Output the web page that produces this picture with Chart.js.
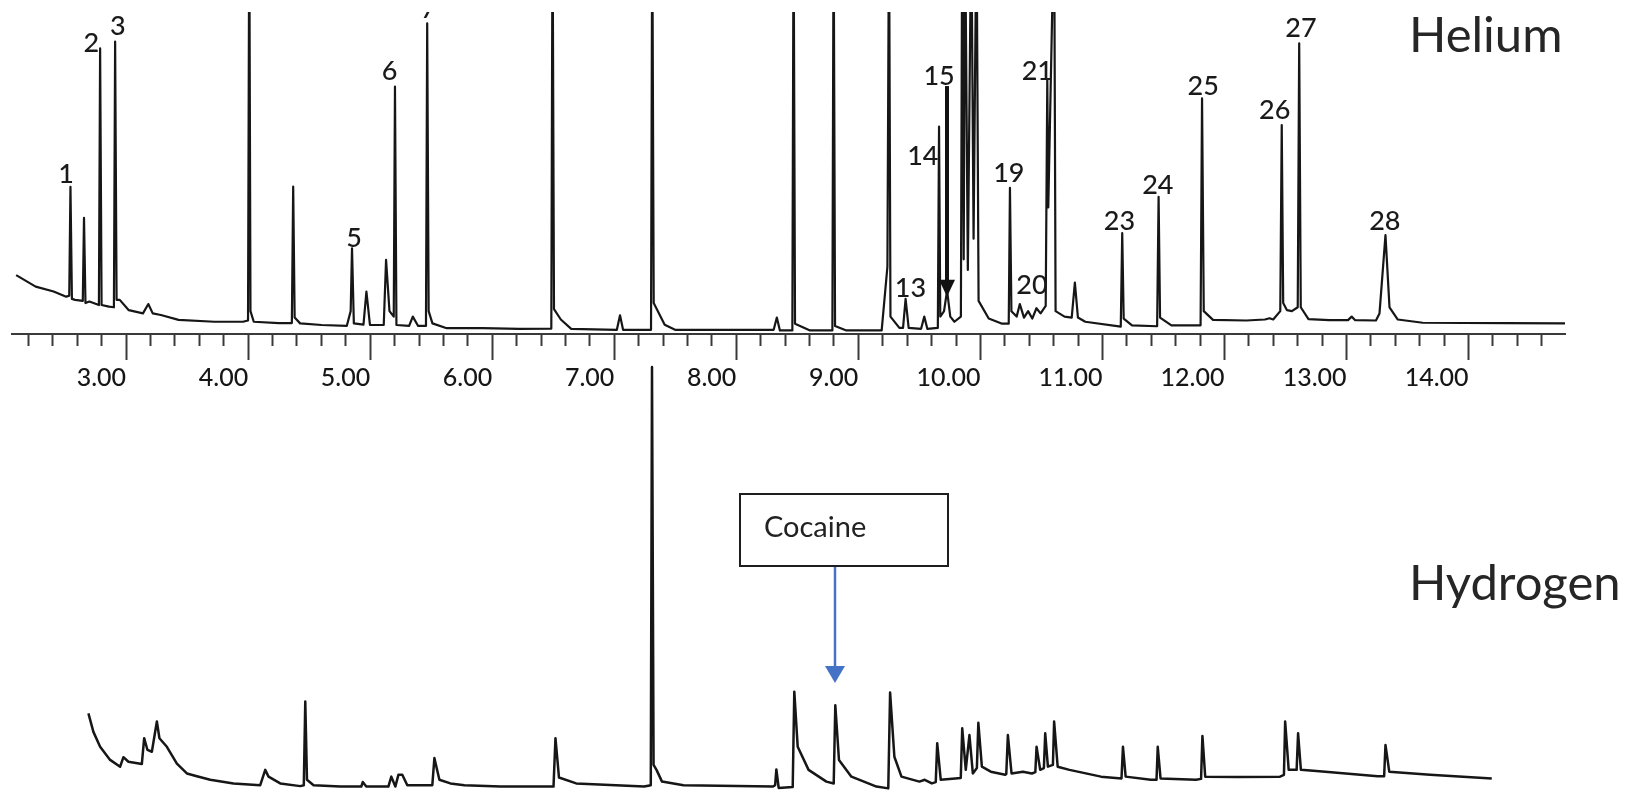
<!DOCTYPE html>
<html>
<head>
<meta charset="utf-8">
<script src="https://cdn.jsdelivr.net/npm/chart.js@4.4.1/dist/chart.umd.min.js"></script>
<style>
  html, body { margin: 0; padding: 0; background: #ffffff; }
  #wrap { position: relative; width: 1627px; height: 792px; overflow: hidden; }
  canvas { position: absolute; left: 0; top: 0; }
</style>
</head>
<body>
<div id="wrap">
  <canvas id="hydrogen" width="1627" height="792"></canvas>
  <canvas id="helium" width="1627" height="400"></canvas>
</div>
<script>
// ---- Helium carrier gas trace (retention time in minutes, detector response in % of full scale) ----
const heliumTime = [
  2.099,2.259,2.406,2.509,2.534,2.544,2.556,2.582,2.645,2.655,
  2.667,2.699,2.777,2.787,2.799,2.860,2.900,2.910,2.922,2.948,
  3.022,3.138,3.182,3.218,3.285,3.430,3.723,3.958,3.999,4.009,
  4.019,4.046,4.251,4.358,4.369,4.381,4.426,4.603,4.808,4.840,
  4.851,4.866,4.945,4.969,4.998,5.111,5.130,5.158,5.193,5.203,
  5.215,5.319,5.349,5.393,5.457,5.467,5.479,5.510,5.627,5.921,
  6.221,6.484,6.494,6.506,6.562,6.647,7.021,7.047,7.072,7.301,
  7.311,7.323,7.413,7.498,8.306,8.332,8.357,8.459,8.469,8.481,
  8.604,8.787,8.797,8.809,8.902,9.191,9.238,9.251,9.263,9.336,
  9.366,9.387,9.412,9.514,9.540,9.565,9.651,9.661,9.671,9.702,
  9.727,9.753,9.787,9.840,9.851,9.863,9.874,9.897,9.925,9.944,
  9.968,9.985,10.068,10.178,10.232,10.242,10.254,10.297,10.323,10.357,
  10.391,10.425,10.459,10.493,10.535,10.548,10.556,10.604,10.616,10.689,
  10.748,10.774,10.799,10.859,11.150,11.162,11.174,11.242,11.448,11.460,
  11.472,11.565,11.804,11.816,11.830,11.906,12.178,12.331,12.369,12.399,
  12.457,12.469,12.481,12.512,12.552,12.600,12.612,12.625,12.688,12.859,
  13.012,13.042,13.071,13.241,13.270,13.319,13.352,13.420,13.624,14.305,
  14.790
];
const heliumSignal = [
  18.3,14.7,13.2,11.6,11.9,45.7,10.9,10.6,10.3,36.1,
  9.6,10.1,9.0,88.7,9.0,8.5,8.3,90.8,10.6,10.6,
  7.4,6.4,9.3,6.4,5.9,4.4,3.8,3.8,4.2,130,
  7.1,3.8,3.4,3.4,45.8,5.1,3.3,2.8,2.5,7.1,
  26.6,3.3,2.9,13.2,2.8,2.8,23.0,7.1,5.4,76.8,
  2.8,2.5,5.4,2.5,2.5,96.5,7.1,3.3,1.8,1.8,
  1.6,1.7,130,7.7,4.5,1.6,1.3,5.8,1.3,1.3,
  130,9.6,2.9,1.3,1.3,5.1,1.1,1.1,130,3.2,
  1.1,1.1,130,2.5,1.1,1.1,20.9,130,5.4,1.9,
  1.9,10.9,1.9,1.6,5.4,1.6,1.9,64.4,5.4,7.1,
  13.5,5.4,3.8,5.4,130,23.2,130,19.9,130,29.6,
  130,10.3,4.8,3.2,3.2,45.4,7.1,5.4,9.3,5.1,
  7.1,4.8,8.0,6.4,8.7,78.9,39.3,130,7.1,5.4,
  5.1,16.0,5.1,3.8,2.3,31.3,4.8,2.7,2.4,42.6,
  5.1,2.7,2.7,73.2,7.1,4.4,4.2,4.5,4.9,4.5,
  7.1,64.9,9.6,7.4,7.1,8.3,90.3,8.3,4.6,4.3,
  4.3,5.4,4.3,4.2,6.4,30.7,8.3,4.5,3.5,3.4,
  3.3
];

// ---- Hydrogen carrier gas trace (same time base) ----
const hydrogenTime = [
  2.691,2.732,2.787,2.869,2.951,2.978,3.019,3.129,3.148,3.175,
  3.211,3.252,3.273,3.334,3.416,3.498,3.580,3.689,3.880,4.099,
  4.140,4.167,4.263,4.427,4.456,4.468,4.482,4.536,4.755,4.927,
  4.939,4.968,5.149,5.173,5.206,5.231,5.263,5.304,5.509,5.526,
  5.567,5.657,5.772,6.067,6.502,6.518,6.547,6.688,7.245,7.299,
  7.309,7.322,7.346,7.391,7.567,8.298,8.318,8.328,8.347,8.462,
  8.475,8.503,8.592,8.738,8.798,8.811,8.841,8.943,9.148,9.245,
  9.260,9.295,9.353,9.500,9.544,9.602,9.634,9.646,9.675,9.793,
  9.839,9.851,9.880,9.910,9.938,9.971,9.983,10.012,10.085,10.203,
  10.212,10.225,10.255,10.348,10.422,10.450,10.460,10.490,10.520,10.531,
  10.553,10.594,10.604,10.633,10.730,10.988,11.156,11.168,11.190,11.396,
  11.443,11.453,11.476,11.767,11.808,11.819,11.842,12.111,12.455,12.487,
  12.497,12.526,12.591,12.603,12.626,12.826,13.256,13.308,13.319,13.350,
  13.685,14.190
];
const hydrogenSignal = [
  17.4,13.3,10.0,7.1,5.6,7.7,6.7,6.2,11.9,9.3,
  8.9,15.6,11.9,10.0,6.3,4.1,3.5,2.7,1.9,1.5,
  4.9,3.4,1.9,1.3,1.5,20.0,2.7,1.5,1.2,1.2,
  2.2,1.2,1.2,3.4,1.2,3.8,3.8,1.5,1.5,7.5,
  2.7,1.9,1.5,1.2,1.2,11.9,3.2,1.9,1.2,1.5,
  94.0,6.0,4.9,2.3,1.5,1.2,1.5,5.0,0.9,1.1,
  22.2,10.0,4.9,2.3,1.9,19.2,7.1,3.4,1.2,0.8,
  22.0,7.8,3.4,2.3,2.7,1.9,2.2,10.8,2.7,3.0,
  3.1,14.1,4.9,12.6,4.1,5.3,15.3,5.6,4.5,3.8,
  4.0,12.6,4.1,4.5,4.1,4.4,10.0,4.9,5.3,13.0,
  5.6,6.0,15.6,5.6,4.9,3.4,3.0,10.0,3.4,2.7,
  2.7,10.0,3.0,2.7,2.9,12.4,3.4,3.3,3.4,3.8,
  15.6,4.9,4.9,13.0,4.9,4.5,3.5,3.5,10.4,4.5,
  3.8,3.0
];

// ---- Axis range and labelled ticks (minutes) ----
const timeMin = 2.065;
const timeMax = 14.79;
const majorMinutes = [3, 4, 5, 6, 7, 8, 9, 10, 11, 12, 13, 14];
const minorStep = 0.2;

// ---- Peak numbering on the helium run (label anchor: time, response) ----
const peakNumbers     = ['1','2','3','5','6','7','13','14','15','19','20','21','23','24','25','26','27','28'];
const peakLabelTime   = [2.509,2.715,2.933,4.867,5.158,5.477,9.427,9.528,9.661,10.233,10.422,10.466,11.139,11.454,11.825,12.412,12.626,13.314];
const peakLabelLevel  = [49.6,90.3,95.5,29.6,81.5,100.9,14.1,55.1,79.9,49.9,15.1,81.5,34.9,46.3,76.8,69.6,94.9,34.9];

// pointer from label 15 down to its small peak
const peak15Pointer = { time: 9.727, from: 77.0, to: 11.6 };

// cocaine call-out on the hydrogen run
const cocaineNote = { text: 'Cocaine', time: 8.811, boxTop: 65.9, boxBottom: 50.0, tip: 24.1 };

const FONT = 'Lato, "Open Sans", sans-serif';
Chart.defaults.font.family = FONT;

function toPoints(xs, ys) {
  return xs.map((t, i) => ({ x: t, y: ys[i] }));
}

// ---------- Helium chart (with the time axis) ----------
const heliumDecor = {
  id: 'heliumDecor',
  afterDatasetsDraw(chart) {
    const { ctx, chartArea: a, scales: { x, y } } = chart;
    ctx.save();
    ctx.beginPath();
    ctx.rect(a.left, a.top, a.right - a.left, a.bottom - a.top);
    ctx.clip();
    ctx.fillStyle = '#1a1a1a';
    ctx.font = '500 27px ' + FONT;
    ctx.textAlign = 'center';
    ctx.textBaseline = 'middle';
    peakNumbers.forEach((n, i) => {
      ctx.fillText(n, x.getPixelForValue(peakLabelTime[i]), y.getPixelForValue(peakLabelLevel[i]));
    });
    // black pointer for peak 15
    const px = Math.round(x.getPixelForValue(peak15Pointer.time));
    const y0 = y.getPixelForValue(peak15Pointer.from);
    const y1 = y.getPixelForValue(peak15Pointer.to);
    ctx.strokeStyle = '#111111';
    ctx.fillStyle = '#111111';
    ctx.lineWidth = 4;
    ctx.beginPath();
    ctx.moveTo(px, y0);
    ctx.lineTo(px, y1 - 14);
    ctx.stroke();
    ctx.beginPath();
    ctx.moveTo(px - 8, y1 - 17);
    ctx.lineTo(px + 8, y1 - 17);
    ctx.lineTo(px, y1);
    ctx.closePath();
    ctx.fill();
    ctx.restore();

    ctx.save();
    ctx.font = '49px ' + FONT;
    ctx.fillStyle = '#262626';
    ctx.textAlign = 'left';
    ctx.textBaseline = 'alphabetic';
    ctx.fillText('Helium', 1409, 52);
    ctx.restore();
  }
};

new Chart(document.getElementById('helium'), {
  type: 'line',
  data: {
    datasets: [{
      data: toPoints(heliumTime, heliumSignal),
      borderColor: '#161616',
      borderWidth: 2.2,
      borderJoinStyle: 'round',
      pointRadius: 0,
      tension: 0,
      fill: false,
      xAxisID: 'x',
      yAxisID: 'y'
    }]
  },
  options: {
    responsive: false,
    animation: false,
    events: [],
    layout: { padding: { left: 12, right: 62, top: 12, bottom: 0 } },
    plugins: { legend: { display: false }, tooltip: { enabled: false } },
    scales: {
      x: {
        type: 'linear',
        position: 'bottom',
        weight: 0,
        min: timeMin,
        max: timeMax,
        border: { display: true, color: '#3a3a3a', width: 2 },
        grid: { drawOnChartArea: false, drawTicks: true, tickLength: 12, tickWidth: 2, tickColor: '#3a3a3a' },
        ticks: { display: false, stepSize: minorStep, includeBounds: false },
        afterFit(scale) { scale.height = 12; }
      },
      xMajor: {
        type: 'linear',
        position: 'bottom',
        weight: 1,
        min: timeMin,
        max: timeMax,
        border: { display: false },
        grid: { drawOnChartArea: false, drawTicks: true, tickLength: 14, tickWidth: 2, tickColor: '#3a3a3a' },
        afterBuildTicks(scale) { scale.ticks = majorMinutes.map(v => ({ value: v })); },
        ticks: {
          align: 'end',
          autoSkip: false,
          maxRotation: 0,
          minRotation: 0,
          padding: 3,
          color: '#161616',
          font: { family: FONT, size: 25, weight: '500' },
          callback: (v) => Number(v).toFixed(2)
        },
        afterFit(scale) { scale.height = 54; }
      },
      y: { display: false, min: 0, max: 100 }
    }
  },
  plugins: [heliumDecor]
});

// ---------- Hydrogen chart (no axes) ----------
const hydrogenDecor = {
  id: 'hydrogenDecor',
  afterDatasetsDraw(chart) {
    const { ctx, scales: { x, y } } = chart;
    const px = Math.round(x.getPixelForValue(cocaineNote.time));
    const top = Math.round(y.getPixelForValue(cocaineNote.boxTop));
    const bottom = Math.round(y.getPixelForValue(cocaineNote.boxBottom));
    const tip = y.getPixelForValue(cocaineNote.tip);
    const left = px - 95, right = px + 113;

    ctx.save();
    // blue pointer
    ctx.strokeStyle = '#4472C4';
    ctx.fillStyle = '#4472C4';
    ctx.lineWidth = 2.5;
    ctx.beginPath();
    ctx.moveTo(px, bottom);
    ctx.lineTo(px, tip - 15);
    ctx.stroke();
    ctx.beginPath();
    ctx.moveTo(px - 10, tip - 17);
    ctx.lineTo(px + 10, tip - 17);
    ctx.lineTo(px, tip);
    ctx.closePath();
    ctx.fill();
    // call-out box
    ctx.fillStyle = '#ffffff';
    ctx.fillRect(left, top, right - left, bottom - top);
    ctx.strokeStyle = '#1e1e1e';
    ctx.lineWidth = 2;
    ctx.strokeRect(left, top, right - left, bottom - top);
    ctx.fillStyle = '#222222';
    ctx.font = '29px ' + FONT;
    ctx.textAlign = 'left';
    ctx.textBaseline = 'alphabetic';
    ctx.fillText(cocaineNote.text, left + 24, top + 43);
    // run label
    ctx.font = '49px ' + FONT;
    ctx.fillStyle = '#262626';
    ctx.fillText('Hydrogen', 1409, 600);
    ctx.restore();
  }
};

new Chart(document.getElementById('hydrogen'), {
  type: 'line',
  data: {
    datasets: [{
      data: toPoints(hydrogenTime, hydrogenSignal),
      borderColor: '#161616',
      borderWidth: 2.5,
      borderJoinStyle: 'round',
      pointRadius: 0,
      tension: 0,
      fill: false
    }]
  },
  options: {
    responsive: false,
    animation: false,
    events: [],
    layout: { padding: { left: 12, right: 62, top: 340, bottom: 0 } },
    plugins: { legend: { display: false }, tooltip: { enabled: false } },
    scales: {
      x: { type: 'linear', display: false, min: timeMin, max: timeMax },
      y: { display: false, min: 0, max: 100 }
    }
  },
  plugins: [hydrogenDecor]
});
</script>
</body>
</html>
